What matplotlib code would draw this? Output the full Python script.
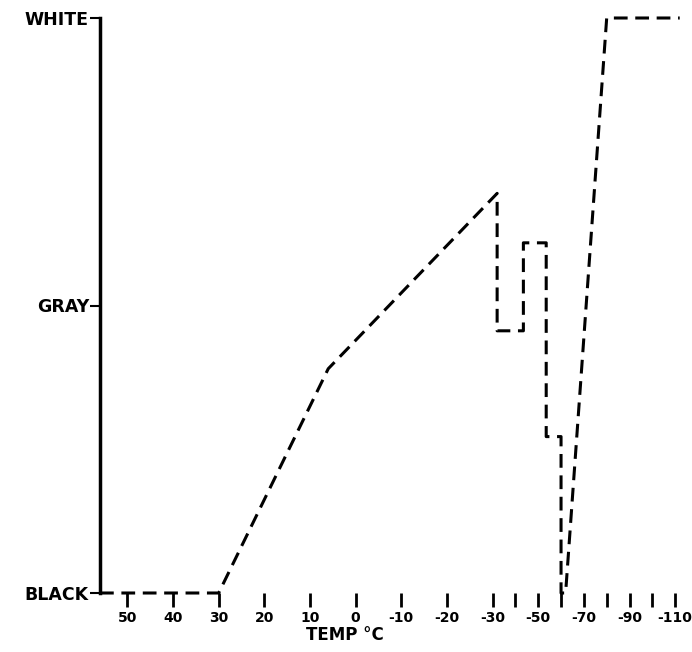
import numpy as np
import matplotlib.pyplot as plt

# --- Data ---
temp = [56, 30, 6, -32, -32, -43.5, -43.5, -53.5, -53.5, -60, -60, -62, -80, -112]
level = [0, 0, 0.39, 0.695, 0.456, 0.456, 0.609, 0.609, 0.272, 0.272, 0, 0, 1, 1]

x_ticks = list(range(50, -111, -10))
x_labels = ["50", "40", "30", "20", "10", "0", "-10", "-20", "-30", "",
            "-50", "", "-70", "", "-90", "", "-110"]
y_ticks = [0, 0.5, 1]
y_labels = ["BLACK", "GRAY", "WHITE"]


# axis is squeezed to half scale below -30 C
def fwd(t):
    t = np.asarray(t, dtype=float)
    return np.where(t >= -30, t, -30 + (t + 30) / 2)


def inv(p):
    p = np.asarray(p, dtype=float)
    return np.where(p >= -30, p, -30 + (p + 30) * 2)


fig = plt.figure(figsize=(6.92, 6.52), dpi=100)
ax = fig.add_axes([100 / 692, 59 / 652, 590 / 692, 575 / 652])

ax.set_xscale('function', functions=(fwd, inv))
ax.plot(temp, level, color='black', lw=2.2, ls=(0, (4.5, 2.5)), clip_on=False)

ax.set_xlim(56, -116.5)
ax.set_ylim(0, 1)

for s in ['top', 'right', 'bottom']:
    ax.spines[s].set_visible(False)
ax.spines['left'].set_linewidth(2.5)

ax.set_xticks(x_ticks)
ax.set_xticklabels(x_labels, fontsize=10, fontweight='bold')
ax.xaxis.set_minor_locator(plt.NullLocator())
ax.tick_params(axis='x', direction='out', length=10, width=2, pad=3)

ax.set_yticks(y_ticks)
ax.set_yticklabels(y_labels, fontsize=12.5, fontweight='bold')
ax.tick_params(axis='y', direction='out', length=7, width=1.5, pad=1)

ax.set_xlabel("TEMP °C", fontsize=12, fontweight='bold')
ax.xaxis.set_label_coords(0.415, -0.058)

fig.savefig("out.png", dpi=100)
